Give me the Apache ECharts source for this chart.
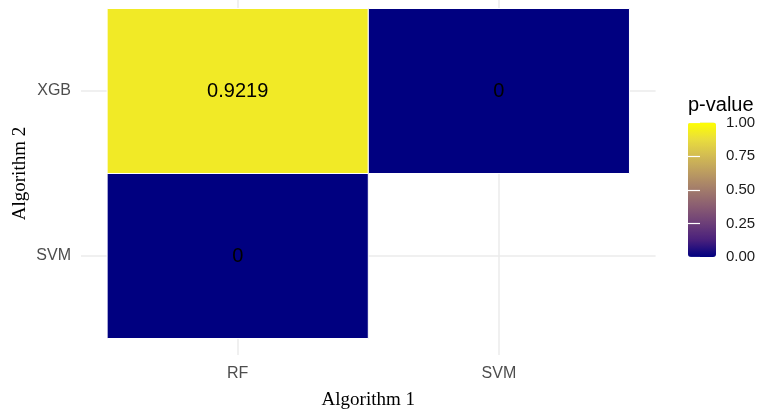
<!DOCTYPE html>
<html>
<head>
<meta charset="utf-8">
<style>
  html, body { margin: 0; padding: 0; background: #fff; }
  #chart { width: 762px; height: 410px; }
</style>
<script src="https://cdn.jsdelivr.net/npm/echarts@6/dist/echarts.min.js"></script>
</head>
<body>
<div id="chart"></div>
<script>
// Pairwise comparison p-values
const algo1 = ['RF', 'SVM'];          // x categories (Algorithm 1)
const algo2 = ['SVM', 'XGB'];         // y categories (Algorithm 2), bottom to top
// [Algorithm 1, Algorithm 2, p-value]
const pairs = [
  ['RF', 'XGB', 0.9219],
  ['SVM', 'XGB', 0],
  ['RF', 'SVM', 0]
];
const legendStep = 0.25;              // colour bar breaks 0.00 … 1.00
// navy -> yellow gradient sampled in Lab space
const gradient = ['#000080', '#49207C', '#6C3E78', '#895C72', '#A27B6B',
                  '#BB9B61', '#D2BB53', '#E9DD3D', '#FFFF00'];

const fmtP = v => (v === 0 ? '0' : String(v));
const cellData = pairs.map(p => [algo1.indexOf(p[0]) + 1, algo2.indexOf(p[1]) + 1, p[2]]);
const xPos = algo1.map((_, i) => i + 1);
const yPos = algo2.map((_, i) => i + 1);

const chart = echarts.init(document.getElementById('chart'));
const gridLine = { show: true, lineStyle: { color: '#EBEBEB', width: 1.5 } };
const sans = 'Liberation Sans, Arial, sans-serif';
const serif = 'Liberation Serif, Times New Roman, serif';
const tickStyle = { color: '#fff', width: 1.2 };

chart.setOption({
  animation: false,
  backgroundColor: '#fff',
  grid: [
    { left: 81, width: 574.6, top: -8, height: 363, outerBoundsMode: 'none', containLabel: false },
    { left: 688, width: 28, top: 122.5, height: 134.5, outerBoundsMode: 'none', containLabel: false }
  ],
  xAxis: [
    {
      type: 'value', gridIndex: 0, min: 0.4, max: 2.6,
      axisLine: { show: false },
      axisTick: { show: false, customValues: xPos },
      axisLabel: {
        customValues: xPos, margin: 11,
        formatter: v => algo1[Math.round(v) - 1],
        color: '#4D4D4D', fontSize: 16, fontFamily: sans
      },
      splitLine: gridLine,
      name: 'Algorithm 1', nameLocation: 'middle', nameGap: 36, nameMoveOverlap: false,
      nameTextStyle: { color: '#000', fontSize: 19, fontFamily: serif }
    },
    {
      type: 'value', gridIndex: 1, min: 0, max: 1, show: false
    }
  ],
  yAxis: [
    {
      type: 'value', gridIndex: 0, min: 0.4, max: 2.6,
      axisLine: { show: false },
      axisTick: { show: false, customValues: yPos },
      axisLabel: {
        customValues: yPos, margin: 10,
        formatter: v => algo2[Math.round(v) - 1],
        color: '#4D4D4D', fontSize: 16, fontFamily: sans
      },
      splitLine: gridLine,
      name: 'Algorithm 2', nameLocation: 'middle', nameGap: 51, nameMoveOverlap: false,
      nameTextStyle: { color: '#000', fontSize: 19, fontFamily: serif }
    },
    {
      // colour bar labels; ticks drawn just inside the bar's right edge
      type: 'value', gridIndex: 1, min: 0, max: 1, interval: legendStep,
      position: 'right', offset: -6, z: 10,
      axisLine: { show: false },
      axisTick: { show: true, inside: false, length: 6, lineStyle: tickStyle },
      axisLabel: {
        margin: 16, formatter: v => v.toFixed(2),
        color: '#1A1A1A', fontSize: 15, fontFamily: sans
      },
      splitLine: { show: false }
    },
    {
      type: 'value', gridIndex: 1, min: 0, max: 1, interval: legendStep,
      position: 'left', z: 10,
      axisLine: { show: false },
      axisTick: { show: true, inside: true, length: 6, lineStyle: tickStyle },
      axisLabel: { show: false },
      splitLine: { show: false }
    }
  ],
  visualMap: {
    type: 'continuous', min: 0, max: 1, dimension: 2, seriesIndex: 0,
    calculable: false, hoverLink: false, text: null, z: 2,
    left: 688, top: 122.5, padding: 0,
    itemWidth: 28, itemHeight: 134.5,
    inRange: { color: gradient },
    textStyle: { color: 'transparent' }
  },
  graphic: [{
    type: 'text', left: 688, top: 95,
    style: { text: 'p-value', fontSize: 20, fontFamily: sans, fill: '#000' }
  }],
  series: [{
    type: 'custom',
    xAxisIndex: 0, yAxisIndex: 0,
    data: cellData,
    renderItem: (params, api) => {
      const x = api.value(0), y = api.value(1);
      const p0 = api.coord([x - 0.5, y + 0.5]);
      const p1 = api.coord([x + 0.5, y - 0.5]);
      return {
        type: 'rect',
        shape: { x: p0[0], y: p0[1], width: p1[0] - p0[0], height: p1[1] - p0[1] },
        style: { fill: api.visual('color'), stroke: '#fff', lineWidth: 1 },
        textContent: {
          style: { text: fmtP(api.value(2)), fill: '#000', fontSize: 20, fontFamily: sans }
        },
        textConfig: { position: 'inside' }
      };
    }
  }]
});
</script>
</body>
</html>
